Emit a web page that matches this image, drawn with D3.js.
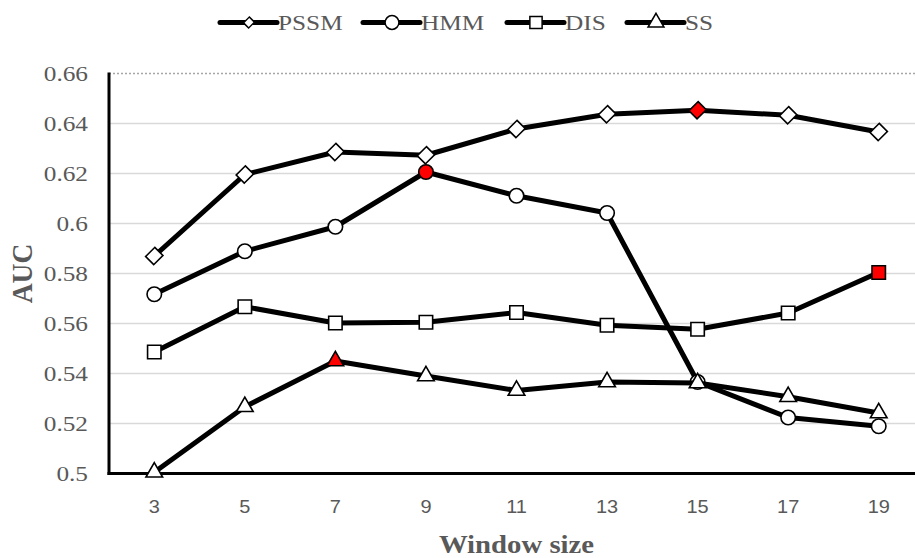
<!DOCTYPE html>
<html><head><meta charset="utf-8">
<script src="https://cdn.jsdelivr.net/npm/d3@7"></script>
<style>html,body{margin:0;padding:0;background:#fff;overflow:hidden}</style>
</head><body>
<svg id="c" width="915" height="558"></svg>
<script>
const windowSizes = ["3","5","7","9","11","13","15","17","19"];
const pssm = [0.5870, 0.6196, 0.6286, 0.6273, 0.6378, 0.6437, 0.6453, 0.6433, 0.6366];
const hmm  = [0.5717, 0.5889, 0.5987, 0.6206, 0.6111, 0.6042, 0.5366, 0.5224, 0.5189];
const dis  = [0.5486, 0.5667, 0.5602, 0.5605, 0.5644, 0.5593, 0.5577, 0.5642, 0.5804];
const ss   = [0.5005, 0.5267, 0.5450, 0.5390, 0.5332, 0.5366, 0.5362, 0.5307, 0.5242];
const seriesNames = ["PSSM","HMM","DIS","SS"];
const bestIndex = [6, 3, 8, 2];
const yTicks = [0.5, 0.52, 0.54, 0.56, 0.58, 0.6, 0.62, 0.64, 0.66];
const yTickLabels = ["0.5","0.52","0.54","0.56","0.58","0.6","0.62","0.64","0.66"];

const seriesValues = [pssm, hmm, dis, ss];
const symbols = [d3.symbolSquare, d3.symbolCircle, d3.symbolSquare, d3.symbolTriangle];
const symRotate = [" rotate(45) scale(0.94,1.06)", "", "", ""];

const svg = d3.select("#c");
const L = 109, R = 924, T = 73.5, B = 473.5;
const x = d3.scaleBand().domain(windowSizes).range([L, R]);
const xc = d => x(d) + x.bandwidth() / 2;
const y = d3.scaleLinear().domain([0.5, 0.66]).range([B, T]);
const SX = 1.15;
const gray = "#595959";
const serif = "'Liberation Serif', 'Times New Roman', serif";

// gridlines
svg.append("g").selectAll("line").data(yTicks.filter(v => v > 0.5 && v < 0.66)).join("line")
  .attr("x1", L).attr("x2", R).attr("y1", d => y(d)).attr("y2", d => y(d))
  .attr("stroke", "#d9d9d9").attr("stroke-width", 1.5);
svg.append("line").attr("x1", L).attr("x2", R).attr("y1", y(0.66)).attr("y2", y(0.66))
  .attr("stroke", "#a6a6a6").attr("stroke-width", 1.5).attr("stroke-dasharray", "2,2");

// y tick labels
svg.append("g").selectAll("text").data(yTicks).join("text")
  .attr("transform", d => `translate(88,${y(d)}) scale(${SX},1)`)
  .attr("text-anchor", "end").attr("dy", "0.35em")
  .style("font-family", serif).attr("font-size", 22).attr("fill", gray)
  .text((d, i) => yTickLabels[i]);

// x tick labels
svg.append("g").selectAll("text").data(windowSizes).join("text")
  .attr("transform", d => `translate(${xc(d)},506) scale(1.05,1)`)
  .attr("text-anchor", "middle").attr("dy", "0.35em")
  .style("font-family", "'Liberation Sans', sans-serif").attr("font-size", 19).attr("fill", gray)
  .text(d => d);

// axes lines
svg.append("line").attr("x1", L).attr("x2", L).attr("y1", T - 1).attr("y2", B + 1.5)
  .attr("stroke", "#000").attr("stroke-width", 3);
svg.append("line").attr("x1", L - 1.5).attr("x2", 915).attr("y1", B).attr("y2", B)
  .attr("stroke", "#000").attr("stroke-width", 3);

// axis titles
svg.append("text").attr("transform", `translate(${(L + R) / 2},553) scale(${SX},1)`)
  .attr("text-anchor", "middle").style("font-family", serif)
  .attr("font-weight", "bold").attr("font-size", 25).attr("fill", gray).text("Window size");
svg.append("text").attr("transform", `translate(32,${(T + B) / 2}) rotate(-90) scale(1.1,${SX})`)
  .attr("text-anchor", "middle").style("font-family", serif)
  .attr("font-weight", "bold").attr("font-size", 25).attr("fill", gray).text("AUC");

// series
const line = d3.line().x((d, i) => xc(windowSizes[i])).y(d => y(d));
const symSize = [150, 165, 180, 120];
seriesValues.forEach((vals, s) => {
  const g = svg.append("g");
  g.append("path").attr("d", line(vals)).attr("fill", "none").attr("stroke", "#000")
    .attr("stroke-width", 5).attr("stroke-linejoin", "round");
  g.selectAll("path.m").data(vals).join("path").attr("class", "m")
    .attr("transform", (d, i) => `translate(${xc(windowSizes[i])},${y(d)})` + symRotate[s])
    .attr("d", d3.symbol().type(symbols[s]).size(symSize[s]))
    .attr("fill", (d, i) => i === bestIndex[s] ? "#ff0000" : "#fff")
    .attr("stroke", "#000").attr("stroke-width", 1.6);
});

// legend
const legendX = [220, 363, 507, 627];
const lg = svg.append("g");
seriesNames.forEach((n, s) => {
  const x0 = legendX[s], ly = 22.5;
  lg.append("line").attr("x1", x0).attr("x2", x0 + 57).attr("y1", ly).attr("y2", ly)
    .attr("stroke", "#000").attr("stroke-width", 5).attr("stroke-linecap", "round");
  lg.append("path").attr("transform", `translate(${x0 + 29},${ly})` + symRotate[s])
    .attr("d", d3.symbol().type(symbols[s]).size([60, 150, 150, 110][s]))
    .attr("fill", "#fff").attr("stroke", "#000").attr("stroke-width", 1.5);
  lg.append("text").attr("transform", `translate(${x0 + 58},${ly}) scale(${SX},1)`)
    .attr("dy", "0.35em").style("font-family", serif)
    .attr("font-size", 22).attr("fill", gray).text(n);
});
</script>
</body></html>
